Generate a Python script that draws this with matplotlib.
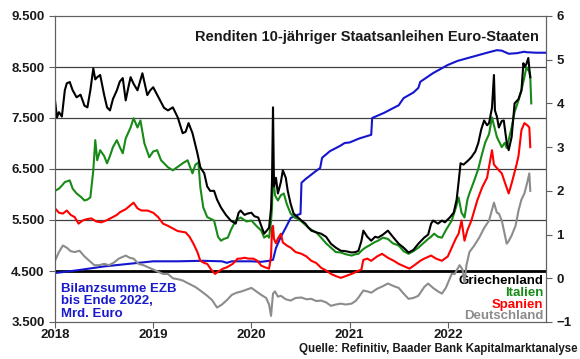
import matplotlib.pyplot as plt
import numpy as np

plt.rcParams['font.family'] = ['Liberation Sans', 'DejaVu Sans']
plt.rcParams['font.weight'] = 'bold'

# Renditen in %, x in Dezimaljahren
gr_x = [2018.00, 2018.02, 2018.04, 2018.07, 2018.10, 2018.12, 2018.15, 2018.18, 2018.22, 2018.26, 2018.30, 2018.33, 2018.36, 2018.39, 2018.41, 2018.43, 2018.46, 2018.50, 2018.53, 2018.56, 2018.59, 2018.63, 2018.66, 2018.69, 2018.72, 2018.75, 2018.77, 2018.80, 2018.84, 2018.89, 2018.94, 2018.97,
        2019.00, 2019.04, 2019.07, 2019.11, 2019.15, 2019.20, 2019.25, 2019.30, 2019.33, 2019.36, 2019.40, 2019.45, 2019.48, 2019.52, 2019.55, 2019.58, 2019.62, 2019.65, 2019.69, 2019.74, 2019.79, 2019.84, 2019.87, 2019.89, 2019.93, 2019.96,
        2020.00, 2020.03, 2020.07, 2020.10, 2020.13, 2020.16, 2020.18, 2020.20, 2020.21, 2020.22, 2020.23, 2020.25, 2020.27, 2020.30, 2020.32, 2020.35, 2020.37, 2020.40, 2020.43, 2020.47, 2020.51, 2020.55, 2020.58, 2020.61, 2020.66, 2020.71, 2020.76, 2020.81, 2020.86, 2020.91, 2020.96,
        2021.02, 2021.06, 2021.09, 2021.12, 2021.14, 2021.18, 2021.22, 2021.26, 2021.29, 2021.34, 2021.39, 2021.44, 2021.50, 2021.55, 2021.60, 2021.65, 2021.70, 2021.76, 2021.80, 2021.83, 2021.85, 2021.90, 2021.94, 2021.97,
        2022.02, 2022.06, 2022.09, 2022.11, 2022.13, 2022.16, 2022.21, 2022.24, 2022.28, 2022.31, 2022.34, 2022.37, 2022.40, 2022.42, 2022.45, 2022.47, 2022.48, 2022.50, 2022.52, 2022.55, 2022.57, 2022.60, 2022.62, 2022.65, 2022.68, 2022.72, 2022.75, 2022.77, 2022.78, 2022.80, 2022.82, 2022.83, 2022.84]
gr_y = [4.07, 3.68, 3.80, 3.70, 4.30, 4.46, 4.49, 4.30, 4.14, 4.20, 3.95, 3.91, 4.30, 4.80, 4.55, 4.60, 4.65, 4.20, 3.91, 3.84, 4.10, 4.30, 4.50, 4.58, 4.07, 4.40, 4.60, 4.45, 4.30, 4.69, 4.19, 4.30,
        4.37, 4.20, 4.07, 3.90, 3.84, 3.91, 3.68, 3.32, 3.35, 3.55, 3.32, 2.86, 2.54, 2.40, 2.10, 2.00, 2.00, 1.80, 1.62, 1.45, 1.32, 1.25, 1.50, 1.55, 1.45, 1.48,
        1.50, 1.42, 1.39, 1.20, 1.02, 1.10, 1.16, 1.60, 2.24, 3.91, 2.10, 2.30, 1.94, 2.20, 2.47, 2.30, 2.00, 1.70, 1.48, 1.40, 1.32, 1.25, 1.16, 1.09, 1.05, 1.02, 0.95, 0.79, 0.70, 0.63, 0.62,
        0.59, 0.60, 0.63, 0.85, 1.09, 0.95, 0.86, 0.95, 0.93, 1.00, 1.09, 0.95, 0.79, 0.70, 0.59, 0.65, 0.79, 0.93, 1.00, 1.25, 1.32, 1.25, 1.32, 1.28,
        1.39, 1.50, 1.80, 2.20, 2.63, 2.60, 2.70, 2.77, 2.90, 3.09, 3.40, 3.61, 3.50, 3.55, 3.90, 4.65, 3.84, 3.70, 3.45, 3.60, 3.61, 3.10, 2.93, 3.23, 4.00, 4.10, 4.30, 4.92, 4.83, 4.90, 5.04, 4.80, 4.60]

it_x = [2018.00, 2018.04, 2018.07, 2018.10, 2018.15, 2018.18, 2018.22, 2018.27, 2018.30, 2018.33, 2018.36, 2018.39, 2018.41, 2018.43, 2018.46, 2018.50, 2018.53, 2018.56, 2018.59, 2018.63, 2018.66, 2018.69, 2018.72, 2018.77, 2018.80, 2018.84, 2018.87, 2018.91, 2018.96,
        2019.00, 2019.04, 2019.08, 2019.15, 2019.20, 2019.25, 2019.30, 2019.35, 2019.40, 2019.43, 2019.46, 2019.48, 2019.51, 2019.55, 2019.62, 2019.66, 2019.69, 2019.72, 2019.76, 2019.79, 2019.84, 2019.89, 2019.95,
        2020.00, 2020.05, 2020.10, 2020.13, 2020.16, 2020.18, 2020.20, 2020.21, 2020.22, 2020.24, 2020.27, 2020.30, 2020.33, 2020.36, 2020.40, 2020.44, 2020.48, 2020.51, 2020.55, 2020.58, 2020.62, 2020.66, 2020.71, 2020.76, 2020.81, 2020.86, 2020.91, 2020.96,
        2021.02, 2021.06, 2021.09, 2021.13, 2021.16, 2021.20, 2021.25, 2021.29, 2021.34, 2021.39, 2021.44, 2021.50, 2021.55, 2021.60, 2021.65, 2021.70, 2021.76, 2021.80, 2021.83, 2021.86, 2021.90, 2021.94, 2021.98,
        2022.04, 2022.08, 2022.11, 2022.14, 2022.17, 2022.20, 2022.22, 2022.27, 2022.31, 2022.34, 2022.38, 2022.42, 2022.45, 2022.47, 2022.50, 2022.55, 2022.58, 2022.60, 2022.65, 2022.68, 2022.72, 2022.75, 2022.78, 2022.80, 2022.83, 2022.84, 2022.85]
it_y = [2.00, 2.05, 2.12, 2.20, 2.24, 2.05, 1.94, 1.85, 1.78, 1.80, 1.85, 2.47, 3.16, 2.70, 2.93, 2.80, 2.63, 2.80, 3.00, 3.16, 3.00, 2.86, 3.20, 3.45, 3.66, 3.45, 3.61, 3.09, 2.77,
        2.90, 2.93, 2.70, 2.54, 2.47, 2.55, 2.63, 2.70, 2.40, 2.60, 2.65, 2.08, 1.62, 1.40, 1.32, 0.95, 0.86, 0.90, 0.93, 1.10, 1.32, 1.39, 1.30,
        1.32, 1.20, 1.09, 0.93, 0.98, 0.93, 1.30, 1.62, 2.47, 1.90, 1.78, 1.90, 1.94, 1.70, 1.48, 1.39, 1.35, 1.30, 1.22, 1.16, 1.10, 1.05, 0.93, 0.80, 0.70, 0.60, 0.59, 0.55,
        0.52, 0.55, 0.56, 0.65, 0.70, 0.75, 0.82, 0.86, 0.93, 0.90, 0.80, 0.75, 0.62, 0.56, 0.62, 0.70, 0.82, 0.90, 0.95, 1.02, 0.95, 0.93, 1.10,
        1.32, 1.60, 1.85, 1.50, 1.39, 1.80, 1.94, 2.24, 2.50, 2.77, 3.10, 3.30, 3.68, 3.50, 3.23, 3.00, 3.10, 2.98, 3.45, 3.80, 4.07, 4.30, 4.60, 4.83, 4.72, 4.60, 4.00]

es_x = [2018.00, 2018.04, 2018.08, 2018.12, 2018.16, 2018.20, 2018.24, 2018.28, 2018.32, 2018.37, 2018.42, 2018.47, 2018.52, 2018.58, 2018.63, 2018.66, 2018.72, 2018.80, 2018.84, 2018.88, 2018.94,
        2019.00, 2019.05, 2019.10, 2019.15, 2019.20, 2019.25, 2019.33, 2019.37, 2019.41, 2019.45, 2019.48, 2019.52, 2019.55, 2019.59, 2019.63, 2019.66, 2019.71, 2019.75, 2019.81, 2019.86, 2019.89, 2019.93, 2019.97,
        2020.02, 2020.06, 2020.10, 2020.14, 2020.18, 2020.20, 2020.21, 2020.22, 2020.23, 2020.25, 2020.27, 2020.30, 2020.32, 2020.36, 2020.40, 2020.45, 2020.51, 2020.56, 2020.61, 2020.66, 2020.71, 2020.76, 2020.81, 2020.86, 2020.91, 2020.96,
        2021.02, 2021.07, 2021.12, 2021.14, 2021.18, 2021.22, 2021.28, 2021.33, 2021.39, 2021.45, 2021.50, 2021.55, 2021.61, 2021.66, 2021.72, 2021.76, 2021.83, 2021.88, 2021.94,
        2022.00, 2022.04, 2022.08, 2022.11, 2022.14, 2022.17, 2022.20, 2022.24, 2022.27, 2022.30, 2022.35, 2022.40, 2022.45, 2022.47, 2022.52, 2022.55, 2022.58, 2022.62, 2022.65, 2022.70, 2022.72, 2022.75, 2022.78, 2022.81, 2022.83, 2022.84]
es_y = [1.60, 1.50, 1.48, 1.55, 1.45, 1.40, 1.25, 1.32, 1.35, 1.37, 1.30, 1.28, 1.32, 1.39, 1.45, 1.51, 1.58, 1.73, 1.60, 1.55, 1.55,
        1.50, 1.40, 1.25, 1.20, 1.14, 1.08, 1.05, 0.95, 0.79, 0.60, 0.40, 0.35, 0.33, 0.20, 0.10, 0.15, 0.22, 0.25, 0.33, 0.45, 0.45, 0.47, 0.45,
        0.45, 0.40, 0.29, 0.25, 0.22, 0.50, 1.16, 1.20, 0.90, 0.80, 0.91, 1.02, 0.82, 0.75, 0.70, 0.60, 0.56, 0.50, 0.40, 0.35, 0.24, 0.18, 0.10, 0.05, 0.01, 0.05,
        0.10, 0.15, 0.20, 0.42, 0.45, 0.40, 0.50, 0.56, 0.47, 0.40, 0.33, 0.28, 0.22, 0.30, 0.40, 0.45, 0.52, 0.45, 0.40,
        0.50, 0.70, 0.90, 1.02, 1.32, 0.86, 1.10, 1.32, 1.55, 1.78, 2.08, 2.30, 2.93, 2.60, 2.47, 2.40, 2.20, 1.94, 2.17, 2.60, 2.80, 3.39, 3.55, 3.50, 3.45, 3.00]

de_x = [2018.00, 2018.04, 2018.08, 2018.12, 2018.16, 2018.20, 2018.25, 2018.30, 2018.35, 2018.40, 2018.45, 2018.50, 2018.55, 2018.60, 2018.65, 2018.72, 2018.76, 2018.80, 2018.85, 2018.90, 2018.95,
        2019.00, 2019.05, 2019.10, 2019.15, 2019.20, 2019.25, 2019.30, 2019.36, 2019.43, 2019.48, 2019.55, 2019.60, 2019.65, 2019.70, 2019.75, 2019.80, 2019.85, 2019.90, 2019.95,
        2020.00, 2020.05, 2020.10, 2020.15, 2020.18, 2020.20, 2020.22, 2020.24, 2020.27, 2020.30, 2020.35, 2020.40, 2020.45, 2020.51, 2020.56, 2020.61, 2020.66, 2020.71, 2020.76, 2020.81, 2020.86, 2020.91, 2020.96,
        2021.02, 2021.06, 2021.09, 2021.14, 2021.18, 2021.22, 2021.28, 2021.34, 2021.39, 2021.45, 2021.50, 2021.55, 2021.60, 2021.65, 2021.70, 2021.76, 2021.80, 2021.85, 2021.90, 2021.94, 2021.98,
        2022.04, 2022.07, 2022.12, 2022.15, 2022.17, 2022.19, 2022.22, 2022.27, 2022.32, 2022.37, 2022.42, 2022.47, 2022.50, 2022.52, 2022.55, 2022.60, 2022.62, 2022.65, 2022.69, 2022.72, 2022.75, 2022.78, 2022.81, 2022.83, 2022.84]
de_y = [0.40, 0.60, 0.75, 0.70, 0.62, 0.60, 0.63, 0.50, 0.40, 0.30, 0.30, 0.33, 0.30, 0.36, 0.45, 0.52, 0.47, 0.45, 0.33, 0.30, 0.25,
        0.20, 0.15, 0.10, 0.10, 0.00, -0.02, -0.05, -0.12, -0.20, -0.28, -0.40, -0.50, -0.67, -0.60, -0.50, -0.38, -0.33, -0.30, -0.26,
        -0.22, -0.30, -0.38, -0.45, -0.60, -0.86, -0.35, -0.30, -0.42, -0.40, -0.48, -0.51, -0.45, -0.44, -0.48, -0.47, -0.52, -0.51, -0.55, -0.63, -0.60, -0.58, -0.60,
        -0.58, -0.52, -0.44, -0.28, -0.30, -0.33, -0.24, -0.18, -0.12, -0.18, -0.22, -0.35, -0.47, -0.45, -0.40, -0.20, -0.12, -0.22, -0.30, -0.35, -0.22,
        0.10, 0.10, 0.30, 0.20, -0.10, 0.30, 0.60, 0.75, 0.93, 1.15, 1.32, 1.73, 1.50, 1.48, 1.32, 0.79, 0.85, 0.98, 1.20, 1.55, 1.80, 1.94, 2.20, 2.40, 2.00]

# Bilanzsumme EZB, Mrd. Euro
ezb_x = [2018.00, 2018.25, 2018.50, 2018.75, 2019.00, 2019.25, 2019.50, 2019.70, 2019.75, 2019.80, 2020.00, 2020.10, 2020.18, 2020.22, 2020.25, 2020.30, 2020.35, 2020.40, 2020.47, 2020.50, 2020.51,
         2020.55, 2020.65, 2020.70, 2020.72, 2020.80, 2020.90, 2020.95, 2021.00, 2021.10, 2021.22, 2021.23, 2021.35, 2021.50, 2021.55, 2021.65, 2021.70, 2021.72, 2021.85,
         2022.00, 2022.10, 2022.25, 2022.40, 2022.50, 2022.55, 2022.62, 2022.70, 2022.78, 2022.80, 2022.90, 2023.00]
ezb_y = [4460, 4520, 4590, 4640, 4690, 4690, 4700, 4690, 4660, 4690, 4690, 4680, 4700, 4720, 4950, 5170, 5350, 5540, 5600, 5620, 6230,
         6300, 6450, 6520, 6720, 6850, 6950, 7010, 7020, 7100, 7170, 7500, 7600, 7750, 7890, 8000, 8090, 8210, 8380,
         8540, 8620, 8700, 8780, 8830, 8820, 8760, 8770, 8800, 8790, 8780, 8780]

laender = ['Griechenland', 'Italien', 'Spanien', 'Deutschland']
farben = ['#000000', '#178a17', '#ff0000', '#8c8c8c']
jahre = [2018, 2019, 2020, 2021, 2022]

fig = plt.figure(figsize=(5.8, 3.59), dpi=100)
ax1 = fig.add_axes([55/580, 37/359, 491/580, 306/359])

# Gitter auf der linken Achse
for g in [5500, 6500, 7500, 8500]:
	ax1.axhline(g, color='#404040', lw=0.9, zorder=1)
ax1.axhline(4500, color='black', lw=2.0, zorder=1)

ax1.plot(ezb_x, ezb_y, color='#1515d0', lw=1.5, zorder=3)
ax1.set_ylim(3500, 9500)
ax1.set_xlim(2018, 2023)
ax1.set_yticks([3500, 4500, 5500, 6500, 7500, 8500, 9500])
ax1.set_yticklabels(['3.500', '4.500', '5.500', '6.500', '7.500', '8.500', '9.500'])
ax1.set_xticks(jahre)
ax1.set_xticklabels([str(j) for j in jahre])

ax2 = ax1.twinx()
ax2.plot(de_x, de_y, color=farben[3], lw=1.5)
ax2.plot(es_x, es_y, color=farben[2], lw=1.5)
ax2.plot(it_x, it_y, color=farben[1], lw=1.5)
ax2.plot(gr_x, gr_y, color=farben[0], lw=1.5)
ax2.set_ylim(-1, 6)
ax2.set_yticks(range(-1, 7))

for ax in (ax1, ax2):
	ax.tick_params(direction='out', length=4, width=0.8, color='#606060', labelsize=9.5, labelcolor='#1a1a1a')
	for s in ax.spines.values():
		s.set_color('#606060')
		s.set_linewidth(0.8)
ax1.tick_params(axis='x', pad=1)

ax1.text(0.985, 0.955, 'Renditen 10-jähriger Staatsanleihen Euro-Staaten', transform=ax1.transAxes,
	ha='right', va='top', fontsize=10.5, fontweight='bold', color='#1a1a1a')
for i, (n, c) in enumerate(zip(laender, farben)):
	ax1.text(0.995, 0.133 - i*0.038, n, transform=ax1.transAxes, ha='right', va='center',
		fontsize=9.5, fontweight='bold', color=c)
ax1.text(0.013, 0.128, 'Bilanzsumme EZB\nbis Ende 2022,\nMrd. Euro', transform=ax1.transAxes,
	ha='left', va='top', fontsize=9.5, fontweight='bold', color='#1a1acc', linespacing=1.05)
fig.text(0.995, 0.028, 'Quelle: Refinitiv, Baader Bank Kapitalmarktanalyse', ha='right', va='center',
	fontsize=8.3, fontweight='bold', color='#1a1a1a')

plt.savefig('out.png', dpi=100)
